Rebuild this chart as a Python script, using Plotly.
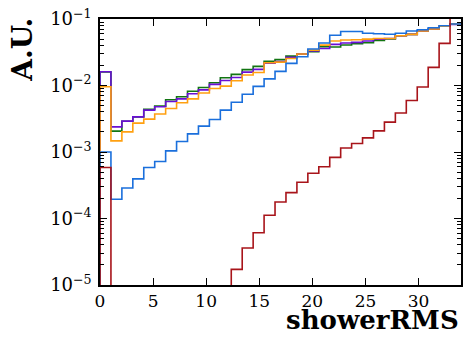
import numpy as np
import plotly.graph_objects as go

# 33 equal-width bins spanning showerRMS 0..34
bin_edges = np.linspace(0, 34, 34)

# normalised bin contents (A.U.)
vals_green = [1.60e-2, 2.06e-3, 2.90e-3, 3.38e-3, 4.40e-3, 4.90e-3, 6.10e-3, 6.76e-3,
              8.20e-3, 9.35e-3, 1.10e-2, 1.31e-2, 1.47e-2, 1.73e-2, 1.94e-2, 2.31e-2,
              2.45e-2, 2.77e-2, 2.97e-2, 3.22e-2, 3.83e-2, 3.79e-2, 4.06e-2, 4.25e-2,
              4.40e-2, 4.77e-2, 5.00e-2, 5.60e-2, 5.87e-2, 6.60e-2, 7.07e-2, 7.76e-2, 8.40e-2]
vals_purple = [1.61e-2, 2.39e-3, 2.91e-3, 3.38e-3, 4.27e-3, 4.80e-3, 5.75e-3, 6.30e-3,
               7.50e-3, 8.60e-3, 1.04e-2, 1.19e-2, 1.32e-2, 1.59e-2, 1.75e-2, 2.17e-2,
               2.30e-2, 2.65e-2, 2.97e-2, 3.30e-2, 3.61e-2, 4.16e-2, 4.35e-2, 4.45e-2,
               4.66e-2, 4.95e-2, 5.10e-2, 5.60e-2, 5.87e-2, 6.60e-2, 7.07e-2, 7.76e-2, 8.30e-2]
vals_orange = [9.60e-3, 1.47e-3, 2.01e-3, 2.72e-3, 3.12e-3, 3.72e-3, 4.52e-3, 5.50e-3,
               6.30e-3, 7.70e-3, 9.00e-3, 9.80e-3, 1.18e-2, 1.44e-2, 1.57e-2, 2.20e-2,
               2.25e-2, 2.55e-2, 2.97e-2, 3.40e-2, 4.05e-2, 4.66e-2, 4.83e-2, 4.87e-2,
               4.98e-2, 5.10e-2, 5.10e-2, 5.60e-2, 5.87e-2, 6.60e-2, 7.07e-2, 7.76e-2, 8.40e-2]
vals_blue = [1.00e-3, 1.95e-4, 2.88e-4, 3.94e-4, 5.85e-4, 7.20e-4, 1.04e-3, 1.44e-3,
             1.87e-3, 2.45e-3, 3.08e-3, 4.27e-3, 5.60e-3, 7.40e-3, 9.70e-3, 1.26e-2,
             1.63e-2, 2.15e-2, 2.71e-2, 3.53e-2, 4.35e-2, 5.70e-2, 6.50e-2, 6.50e-2,
             6.10e-2, 6.00e-2, 5.90e-2, 6.10e-2, 6.60e-2, 6.90e-2, 7.40e-2, 7.90e-2, 8.40e-2]
vals_red = [5.85e-4, 0, 0, 0, 0, 0, 0, 0, 0, 0, 0, 0, 1.72e-5, 3.60e-5, 6.10e-5, 1.12e-4,
            1.77e-4, 2.45e-4, 3.50e-4, 4.80e-4, 6.00e-4, 8.30e-4, 1.15e-3, 1.34e-3,
            1.63e-3, 2.08e-3, 2.81e-3, 3.85e-3, 5.95e-3, 9.50e-3, 1.87e-2, 4.30e-2, 8.70e-1]

series = [
    ("green", vals_green, "#127512"),
    ("purple", vals_purple, "#6a0fd4"),
    ("orange", vals_orange, "#ffa010"),
    ("blue", vals_blue, "#1a6fdc"),
    ("red", vals_red, "#a8141a"),
]

y_tickvals = [1e-5, 1e-4, 1e-3, 1e-2, 1e-1]
y_ticktext = ["10<sup>\u22125</sup>", "10<sup>\u22124</sup>", "10<sup>\u22123</sup>",
              "10<sup>\u22122</sup>", "10<sup>\u22121</sup>"]
x_tickvals = [0, 5, 10, 15, 20, 25, 30]

FLOOR = 1e-12  # empty bins drawn below the visible range on the log axis

fig = go.Figure()
for name, vals, color in series:
    v = np.asarray(vals, dtype=float)
    v = np.where(v > 0, v, FLOOR)
    xs = np.concatenate([[bin_edges[0]], bin_edges])
    ys = np.concatenate([[FLOOR], v, [v[-1]]])
    fig.add_trace(go.Scatter(
        x=xs, y=ys, mode="lines", name=name,
        line=dict(color=color, width=1.6, shape="hv"),
        showlegend=False, hoverinfo="skip",
    ))

font_family = "DejaVu Serif"

fig.update_layout(
    width=467, height=337,
    margin=dict(l=100, r=4, t=19, b=52),
    paper_bgcolor="white", plot_bgcolor="white",
    font=dict(family=font_family, color="black", size=17),
)
fig.update_xaxes(
    range=[0, 34], tickvals=x_tickvals,
    ticks="inside", ticklen=7, tickwidth=1, tickcolor="black",
    showline=True, linecolor="black", linewidth=1.5, mirror="allticks",
    showgrid=False, zeroline=False,
    tickfont=dict(family=font_family, size=17),
)
fig.update_yaxes(
    type="log", range=[-5, -1],
    tickvals=y_tickvals, ticktext=y_ticktext,
    ticks="inside", ticklen=7, tickwidth=1, tickcolor="black",
    minor=dict(ticks="inside", ticklen=4, tickcolor="black", dtick="D1", showgrid=False),
    showline=True, linecolor="black", linewidth=1.5, mirror="allticks",
    showgrid=False, zeroline=False, ticklabelstandoff=3,
    tickfont=dict(family=font_family, size=18),
)

fig.add_annotation(
    text="<b>A.U.</b>", xref="paper", yref="paper", x=-0.215, y=0.886,
    xanchor="center", yanchor="middle", textangle=-90, showarrow=False,
    font=dict(family=font_family, size=28, color="black"),
)
fig.add_annotation(
    text="<b>showerRMS</b>", xref="paper", yref="paper", x=1.0, y=-0.195,
    xanchor="right", yanchor="bottom", showarrow=False,
    font=dict(family=font_family, size=26, color="black"),
)

fig.write_html("out.html")
